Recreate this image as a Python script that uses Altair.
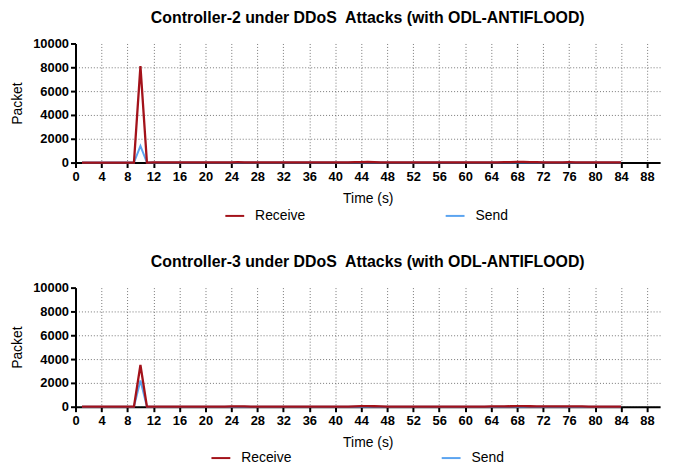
import altair as alt
import pandas as pd

time = list(range(1, 85))

c2_receive = [0, 0, 0, 0, 0, 0, 0, 0, 0, 8100, 0,
              10, 10, 12, 10, 10, 15, 10, 10, 12, 10, 10, 20, 25,
              30, 25, 20, 15, 10, 10, 12, 10, 10, 10, 10, 10,
              10, 10, 10, 12, 10, 10, 30, 45, 50, 40, 25, 15,
              15, 15, 15, 12, 10, 10, 10, 10, 10, 12, 15, 15,
              15, 15, 15, 20, 25, 30, 40, 50, 50, 45, 35, 25,
              20, 20, 25, 30, 25, 20, 15, 15, 15, 15, 10, 10]
c2_send = [0, 0, 0, 0, 0, 0, 0, 0, 0, 1400, 0,
           5, 5, 5, 5, 5, 5, 5, 5, 5, 5, 5, 5, 5,
           5, 5, 5, 5, 5, 5, 5, 5, 5, 5, 5, 5,
           5, 5, 5, 5, 5, 5, 5, 5, 5, 5, 5, 5,
           5, 5, 5, 5, 5, 5, 5, 5, 5, 5, 5, 5,
           5, 5, 5, 5, 5, 5, 5, 5, 5, 5, 5, 5,
           5, 5, 5, 5, 5, 5, 5, 5, 5, 5, 5, 5]

c3_receive = [0, 0, 0, 0, 0, 0, 0, 0, 0, 3500, 0,
              10, 10, 12, 10, 10, 12, 10, 10, 12, 10, 10, 15, 20,
              20, 20, 15, 12, 10, 10, 12, 10, 10, 10, 10, 10,
              10, 10, 10, 12, 10, 15, 30, 45, 50, 40, 25, 15,
              15, 15, 15, 12, 10, 10, 10, 10, 10, 12, 15, 15,
              15, 15, 15, 20, 25, 30, 40, 50, 45, 40, 30, 25,
              20, 20, 25, 30, 25, 20, 15, 15, 15, 15, 10, 10]
c3_send = [0, 0, 0, 0, 0, 0, 0, 0, 0, 2200, 0,
           5, 5, 5, 5, 5, 5, 5, 5, 5, 5, 5, 5, 5,
           5, 5, 5, 5, 5, 5, 5, 5, 5, 5, 5, 5,
           5, 5, 5, 5, 5, 5, 5, 5, 5, 5, 5, 5,
           5, 5, 5, 5, 5, 5, 5, 5, 5, 5, 5, 5,
           5, 5, 5, 5, 5, 5, 5, 5, 5, 5, 5, 5,
           5, 5, 5, 5, 5, 5, 5, 5, 5, 5, 5, 5]

x_ticks = [0, 4, 8, 12, 16, 20, 24, 28, 32, 36, 40, 44, 48, 52, 56, 60, 64, 68, 72, 76, 80, 84, 88]
y_ticks = [0, 2000, 4000, 6000, 8000, 10000]
series_names = ["Receive", "Send"]
series_colors = ["#a3121a", "#5ba4f0"]
titles = ["Controller-2 under DDoS\u00a0 Attacks (with ODL-ANTIFLOOD)",
          "Controller-3 under DDoS\u00a0 Attacks (with ODL-ANTIFLOOD)"]

FONT = "Liberation Sans"


def panel(title, receive, send, legend_x, legend_y, col_pad):
    df = pd.DataFrame({
        "Time": time + time,
        "Packet": receive + send,
        "Series": ["Receive"] * len(time) + ["Send"] * len(time),
    })
    base = alt.Chart(df).encode(
        x=alt.X("Time:Q",
                scale=alt.Scale(domain=[0, 90], nice=False, zero=False),
                axis=alt.Axis(values=x_ticks, title="Time (s)", format="d",
                              labelFontWeight="bold", labelFontSize=13, labelColor="black",
                              labelPadding=3, titleFontSize=14, titleFontWeight="normal",
                              titleColor="black", titlePadding=8,
                              domainColor="black", domainWidth=2,
                              tickColor="black", tickWidth=2, tickSize=5,
                              gridColor="#777", gridDash=[1, 2], gridWidth=1,
                              labelFlush=False)),
        y=alt.Y("Packet:Q",
                scale=alt.Scale(domain=[0, 10000], nice=False),
                axis=alt.Axis(values=y_ticks, title="Packet", format="d",
                              labelFontWeight="bold", labelFontSize=13, labelColor="black",
                              labelPadding=2, titleFontSize=14, titleFontWeight="normal",
                              titleColor="black", titlePadding=8,
                              domainColor="black", domainWidth=2,
                              tickColor="black", tickWidth=2, tickSize=5,
                              gridColor="#777", gridDash=[1, 2], gridWidth=1,
                              gridOpacity={"condition": {"test": "datum.value === 10000", "value": 0}, "value": 1})),
        color=alt.Color("Series:N",
                        scale=alt.Scale(domain=series_names, range=series_colors),
                        legend=alt.Legend(title=None, orient="none", legendX=legend_x, legendY=legend_y,
                                          direction="horizontal", columnPadding=col_pad,
                                          symbolType="stroke", symbolSize=361, symbolStrokeWidth=2,
                                          labelFontSize=14, labelFont=FONT, labelColor="black",
                                          labelOffset=10, padding=0)),
    )
    send_line = base.transform_filter(alt.datum.Series == "Send").mark_line(strokeWidth=2)
    recv_line = base.transform_filter(alt.datum.Series == "Receive").mark_line(strokeWidth=2.3)
    return alt.layer(send_line, recv_line).properties(
        width=589, height=120,
        title=alt.TitleParams(title, fontSize=16, fontWeight="bold", font=FONT,
                              color="black", offset=12, anchor="middle"),
    )


top = panel(titles[0], c2_receive, c2_send, 150, 163, 137)
bottom = panel(titles[1], c3_receive, c3_send, 136, 161, 147)

chart = alt.vconcat(top, bottom, spacing=31).resolve_legend(color="independent").resolve_scale(
    color="independent").properties(
    padding={"left": 2, "top": 0, "right": 5, "bottom": 0}
).configure(font=FONT).configure_view(stroke=None)

chart.save("out.html", embed_options={"renderer": "svg", "actions": False})
